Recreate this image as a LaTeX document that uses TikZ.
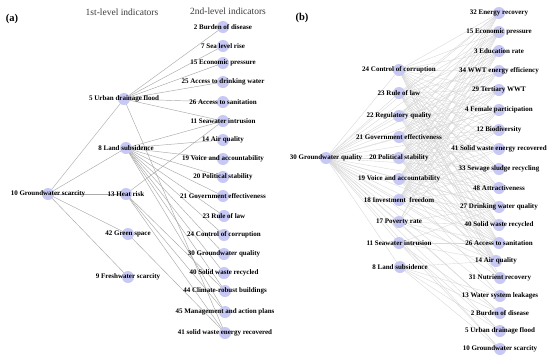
\documentclass[tikz,border=0pt]{standalone}
\usepackage{fontspec}
\setmainfont{Liberation Serif}
\pgfdeclarelayer{bg}
\pgfsetlayers{bg,main}
\definecolor{dotc}{RGB}{200,200,245}
\definecolor{edgeA}{RGB}{170,170,170}
\definecolor{edgeB}{RGB}{215,215,215}
\definecolor{headc}{RGB}{60,60,60}
\tikzset{
  dot/.style={circle,fill=dotc,draw=none,minimum size=12pt,inner sep=0pt},
  lbl/.style={font=\bfseries\fontsize{7}{8}\selectfont,inner sep=0pt,text=black},
  head/.style={font=\fontsize{9.5}{11}\selectfont,text=headc,inner sep=0pt},
  panel/.style={font=\bfseries\fontsize{10.5}{12}\selectfont,inner sep=0pt},
  edgea/.style={draw=edgeA,line width=0.45pt},
  edgeb/.style={draw=edgeB,line width=0.35pt}
}
\newcommand{\nd}[4]{\node[dot] (#1) at (#2,#3) {}; \node[lbl] (#1-l) at (#2,#3) {#4};}
\begin{document}
\begin{tikzpicture}[x=1pt,y=-1pt]
\useasboundingbox (0,0) rectangle (550,360);
% ---------- panel (a)
\node[panel] (pa) at (12,19) {(a)};
\node[head] (ha) at (122,12) {1st-level indicators};
\node[head] (hb) at (228,11) {2nd-level indicators};
\nd{a2}{223}{27}{2 Burden of disease}
\nd{a7}{223}{46}{7 Sea level rise}
\nd{a15}{223}{63}{15 Economic pressure}
\nd{a25}{223}{82}{25 Access to drinking water}
\nd{a26}{223}{102}{26 Access to sanitation}
\nd{a11}{223}{121}{11 Seawater intrusion}
\nd{a14}{223}{140}{14 Air quality}
\nd{a19}{223}{159}{19 Voice and accountability}
\nd{a20}{223}{177}{20 Political stability}
\nd{a21}{223}{196}{21 Government effectiveness}
\nd{a23}{224}{216}{23 Rule of law}
\nd{a24}{224}{235}{24 Control of corruption}
\nd{a30}{224}{254}{30 Groundwater quality}
\nd{a40}{224}{273}{40 Solid waste recycled}
\nd{a44}{225}{291}{44 Climate-robust buildings}
\nd{a45}{225}{312}{45 Management and action plans}
\nd{a41}{225}{333}{41 solid waste energy recovered}
\nd{a5}{124}{99}{5 Urban drainage flood}
\nd{a8}{126}{148}{8 Land subsidence}
\nd{a13}{126}{194}{13 Heat risk}
\nd{a42}{128}{234}{42 Green space}
\nd{a9}{128}{277}{9 Freshwater scarcity}
\nd{a10}{48}{194}{10 Groundwater scarcity}
% ---------- panel (b)
\node[panel] (pb) at (302,18) {(b)};
\nd{b32}{499}{13}{32 Energy recovery}
\nd{b15}{499}{32}{15 Economic pressure}
\nd{b3}{499}{51}{3 Education rate}
\nd{b34}{499}{71}{34 WWT energy efficiency}
\nd{b29}{499}{90}{29 Tertiary WWT}
\nd{b4}{499}{110}{4 Female participation}
\nd{b12}{499}{130}{12 Biodiversity}
\nd{b41}{499}{149}{41 Solid waste energy recovered}
\nd{b33}{499}{169}{33 Sewage sludge recycling}
\nd{b48}{499}{188}{48 Attractiveness}
\nd{b27}{499}{207}{27 Drinking water quality}
\nd{b40}{499}{225}{40 Solid waste recycled}
\nd{b26}{499}{243}{26 Access to sanitation}
\nd{b14}{496}{261}{14 Air quality}
\nd{b31}{500}{278}{31 Nutrient recovery}
\nd{b13}{500}{296}{13 Water system leakages}
\nd{b2}{500}{313}{2 Burden of disease}
\nd{b5}{500}{331}{5 Urban drainage flood}
\nd{b10}{500}{349}{10 Groundwater scarcity}
\nd{b24}{399}{70}{24 Control of corruption}
\nd{b23}{399}{93}{23 Rule of law}
\nd{b22}{399}{116}{22 Regulatory quality}
\nd{b21}{399}{137}{21 Government effectiveness}
\nd{b20}{399}{158}{20 Political stability}
\nd{b19}{399}{179}{19 Voice and accountability}
\nd{b18}{399}{200}{18 Investment\ \ freedom}
\nd{b17}{399}{222}{17 Poverty rate}
\nd{b11}{399}{243}{11 Seawater intrusion}
\nd{b8}{400}{267}{8 Land subsidence}
\nd{b30}{326}{158}{30 Groundwater quality}
% ---------- edges
\begin{pgfonlayer}{bg}
\fill[white] (0,0) rectangle (550,360);
\foreach \s/\t in {a10/a5,a10/a8,a10/a13,a10/a42,a10/a9,
  a5/a2,a5/a7,a5/a15,a5/a25,a5/a26,a5/a11,a5/a41,
  a8/a11,a8/a14,a8/a19,a8/a20,a8/a21,a8/a23,a8/a24,a8/a30,a8/a40,a8/a44,a8/a45,
  a13/a11,a13/a44,a13/a45,a13/a41,a42/a41}
  \draw[edgea] (\s.center) -- (\t.center);
\foreach \t in {b24,b23,b22,b21,b20,b19,b18,b17,b11,b8,
  b32,b15,b3,b34,b29,b4,b12,b41,b33,b48,b27,b40,b26,b14,b31,b13,b2,b5,b10}
  \draw[edgeb] (b30.center) -- (\t.center);
\foreach \s in {b24,b23,b22,b21,b20,b19,b18}
  \foreach \t in {b32,b15,b3,b34,b29,b4,b12,b41,b33,b48,b27,b40,b26,b14}
    \draw[edgeb] (\s.center) -- (\t.center);
\foreach \s/\t in {b17/b15,b17/b3,b17/b4,b17/b27,b17/b26,b17/b14,b17/b40,b17/b2,
  b11/b27,b11/b26,b11/b14,b11/b2,b11/b5,b11/b10,
  b8/b14,b8/b13,b8/b2,b8/b5,b8/b10,
  b24/b31,b21/b31,b19/b13,b20/b31}
  \draw[edgeb] (\s.center) -- (\t.center);
\end{pgfonlayer}
\end{tikzpicture}
\end{document}
